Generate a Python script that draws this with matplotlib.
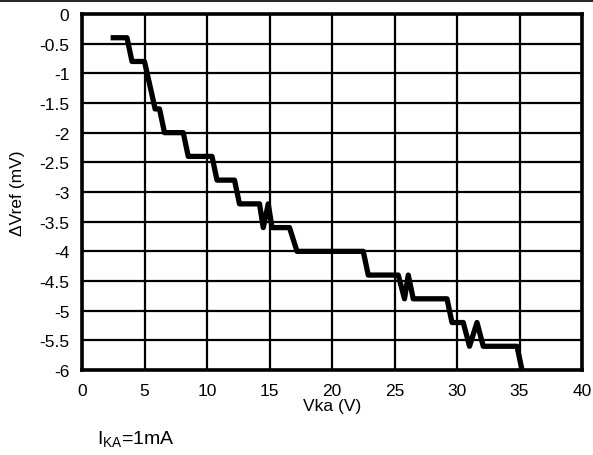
import numpy as np
import matplotlib
matplotlib.use("Agg")
import matplotlib.pyplot as plt
from matplotlib.lines import Line2D

plt.rcParams['font.family'] = ['Liberation Sans', 'DejaVu Sans']

# Vka (V) vs delta Vref (mV)
vka = [2.5, 3.6, 4.0, 5.0, 5.85, 6.2, 6.6, 8.1, 8.5, 10.4, 10.8, 12.2, 12.6,
       14.2, 14.5, 14.9, 15.2, 16.6, 17.2, 22.5, 22.9, 25.3, 25.8, 26.1, 26.5,
       29.2, 29.6, 30.5, 31.0, 31.6, 32.1, 34.8, 35.2]
dvref = [-0.4, -0.4, -0.8, -0.8, -1.6, -1.6, -2.0, -2.0, -2.4, -2.4, -2.8, -2.8, -3.2,
         -3.2, -3.6, -3.2, -3.6, -3.6, -4.0, -4.0, -4.4, -4.4, -4.8, -4.4, -4.8,
         -4.8, -5.2, -5.2, -5.6, -5.2, -5.6, -5.6, -6.0]

xticks = np.arange(0, 41, 5)
yticks = np.arange(-6, 0.01, 0.5)
ytick_labels = ['-6', '-5.5', '-5', '-4.5', '-4', '-3.5', '-3', '-2.5', '-2',
                '-1.5', '-1', '-0.5', '0']

fig = plt.figure(figsize=(5.93, 4.56), dpi=100)
ax = fig.add_axes([82/593, 1 - 371/456, 500/593, 356/456])

ax.plot(vka, dvref, color='black', lw=3.8, solid_joinstyle='round', zorder=3)

ax.set_xlim(0, 40)
ax.set_ylim(-6, 0)
ax.set_xticks(xticks)
ax.set_yticks(yticks)
ax.set_yticklabels(ytick_labels)
ax.tick_params(length=0, labelsize=12.5, pad=9)
ax.grid(True, color='black', lw=1.6)
for s in ax.spines.values():
    s.set_linewidth(2.6)

ax.set_xlabel('Vka (V)', fontsize=12.5, labelpad=0)
ax.set_ylabel('ΔVref (mV)', fontsize=12.5, labelpad=10)

fig.text(97/593, 1 - 440/456, r'I$_\mathregular{KA}$=1mA', fontsize=14, va='center')
fig.add_artist(Line2D([0, 1], [1 - 1.5/456, 1 - 1.5/456], color='black', lw=1.2))

fig.savefig('out.png', dpi=100)
